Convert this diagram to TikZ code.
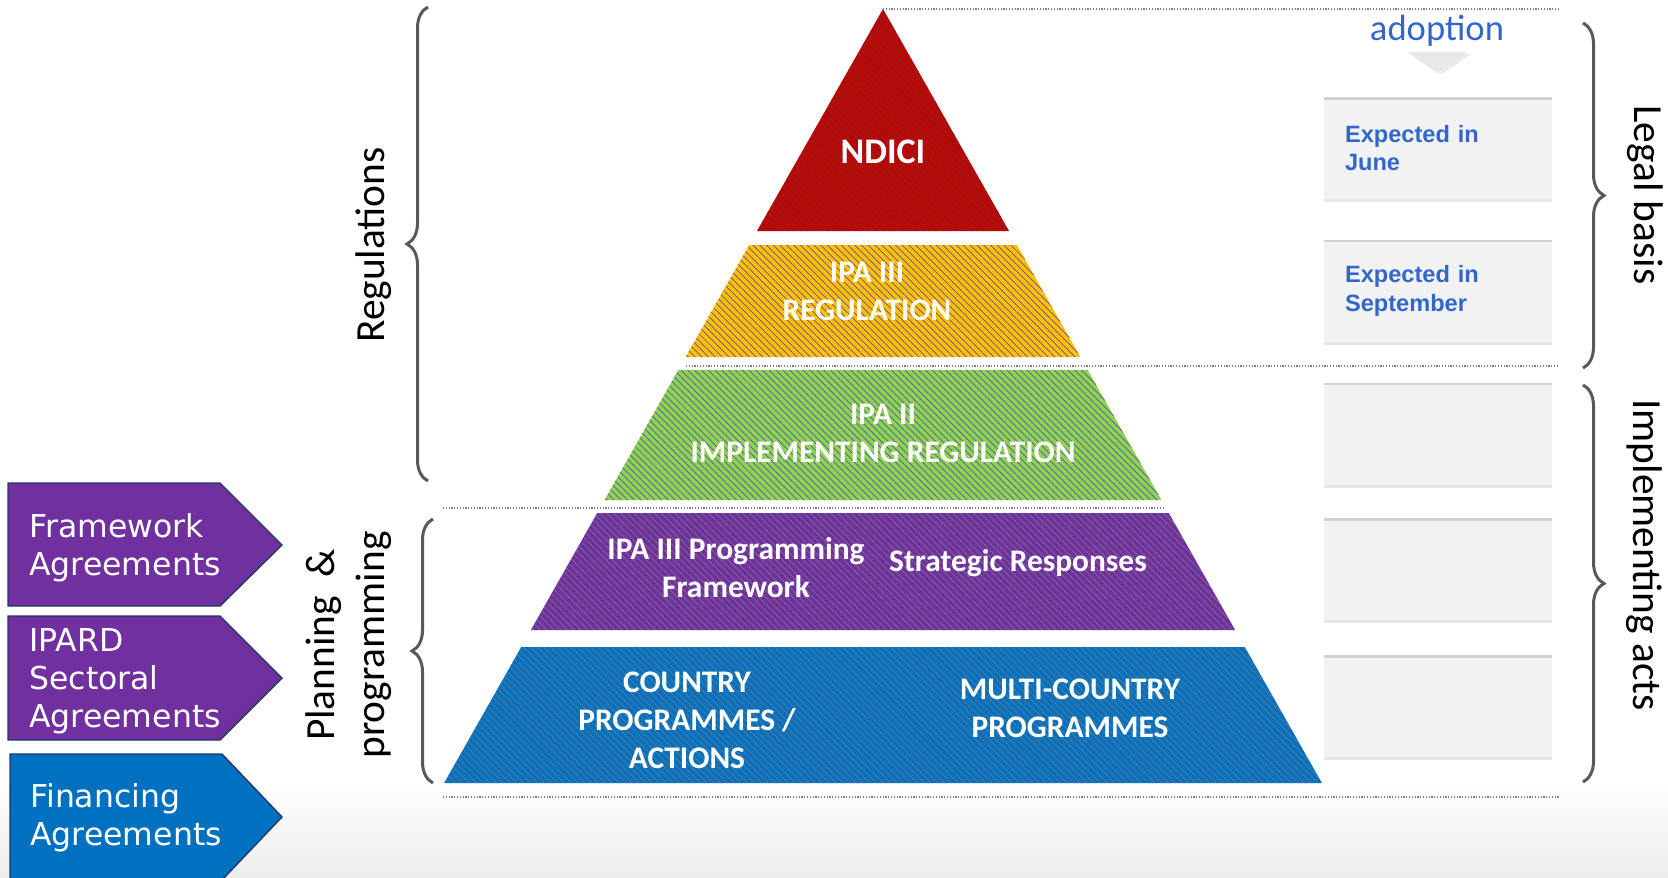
\documentclass[tikz,border=0pt]{standalone}
\usepackage{fontspec}
\setmainfont{Carlito}
\newfontfamily\agreefont{DejaVu Sans}
\newfontfamily\boxfont{Liberation Sans}
\usetikzlibrary{positioning,decorations.pathreplacing,shadows,patterns.meta}

\definecolor{ndicired}{HTML}{C00000}
\definecolor{ipayellow}{HTML}{FFC000}
\definecolor{ipagreen}{HTML}{92D050}
\definecolor{ipapurple}{HTML}{7030A0}
\definecolor{ipablue}{HTML}{0070C0}
\definecolor{navyline}{HTML}{203864}
\definecolor{adoptblue}{HTML}{3366CC}
\definecolor{boxgray}{HTML}{F2F2F2}
\definecolor{bracegray}{HTML}{595959}

\tikzset{
  layertext/.style={text=white, font=\bfseries\fontsize{15.7}{19}\selectfont, align=center},
  sidelabel/.style={font=\fontsize{20.7}{25}\selectfont, align=center},
  agreetext/.style={text=white, anchor=west, align=left, inner sep=0pt,
    font=\agreefont\fontsize{15.75}{19}\selectfont},
  actbox/.style={fill=boxgray, minimum width=114pt, minimum height=51pt,
    inner xsep=10.5pt, text width=93pt, align=left, text=adoptblue,
    font=\boxfont\bfseries\fontsize{11.8}{14.2}\selectfont,
    drop shadow={shadow xshift=0pt, shadow yshift=-1.5pt, opacity=0.2},
    path picture={\fill[black!18] (path picture bounding box.north west)
      rectangle ([yshift=-1.3pt]path picture bounding box.north east);}},
  guideline/.style={draw=gray, line width=0.6pt, dash pattern=on 0.6pt off 0.8pt},
  bracket/.style={decorate, decoration={brace, amplitude=10.5pt},
    draw=bracegray, line width=1.5pt},
}

\begin{document}
\begin{tikzpicture}[x=0.5pt, y=-0.5pt]
  \useasboundingbox (0,0) rectangle (1668,877);
  \shade[top color=white, bottom color=black!7] (0,780) rectangle (1668,877);

  % pyramid
  \coordinate (apex) at (883,9);
  \fill[ndicired] (apex) -- (1009,231) -- (757,231) -- cycle;
  \path[pattern={Lines[angle=-45,distance=2.4pt,line width=0.35pt]},
        pattern color=ndicired!55!teal] (apex) -- (1009,231) -- (757,231) -- cycle;
  \foreach \top/\bot/\col/\stripe in {245/357/ipayellow/blue!60!ipayellow,
      370/500/ipagreen/blue!55!ipagreen, 513/630/ipapurple/gray!80!ipapurple,
      647/783/ipablue/gray!80!ipablue}
  {
    \fill[\col] ({883-0.567*(\top-9)},\top) -- ({883+0.567*(\top-9)},\top)
      -- ({883+0.567*(\bot-9)},\bot) -- ({883-0.567*(\bot-9)},\bot) -- cycle;
    \path[pattern={Lines[angle=-45,distance=2.4pt,line width=0.35pt]}, pattern color=\stripe]
      ({883-0.567*(\top-9)},\top) -- ({883+0.567*(\top-9)},\top)
      -- ({883+0.567*(\bot-9)},\bot) -- ({883-0.567*(\bot-9)},\bot) -- cycle;
  }

  \node[layertext, font=\bfseries\fontsize{18}{21}\selectfont] (ndici) at (883,152) {NDICI};
  \node[layertext] (ipa3)    at (867,291)   {IPA III\\REGULATION};
  \node[layertext] (ipa2)    at (883,433)   {IPA II\\IMPLEMENTING REGULATION};
  \node[layertext] (progfw)  at (736,567.5) {IPA III Programming\\Framework};
  \node[layertext] (stratr)  at (1018,563)  {Strategic Responses};
  \node[layertext] (country) at (687,720)   {COUNTRY\\PROGRAMMES /\\ACTIONS};
  \node[layertext] (multi)   at (1070,708)  {MULTI-COUNTRY\\PROGRAMMES};

  % dotted guide lines
  \draw[guideline] (apex) -- (1560,9);
  \draw[guideline] (686,366) -- (1559,366);
  \draw[guideline] (443,508) -- (1163,508);
  \draw[guideline] (443,797) -- (1560,797);

  % agreements
  \filldraw[fill=ipapurple, draw=navyline, line width=0.7pt]
    (8,483) -- (220,483) -- (282,545) -- (220,606) -- (8,606) -- cycle;
  \filldraw[fill=ipapurple, draw=navyline, line width=0.7pt]
    (8,616) -- (220,616) -- (282,678) -- (220,740) -- (8,740) -- cycle;
  \filldraw[fill=ipablue, draw=navyline, line width=0.7pt]
    (10,754) -- (222,754) -- (282,817) -- (222,880) -- (10,880) -- cycle;
  \node[agreetext] (framework) at (29,548)   {Framework\\Agreements};
  \node[agreetext] (ipard)     at (29,681)   {IPARD\\Sectoral\\Agreements};
  \node[agreetext] (financing) at (30,818)   {Financing\\Agreements};

  % adoption column
  \node[text=adoptblue, font=\fontsize{18.3}{22}\selectfont] (adoption) at (1437,31) {adoption};
  \fill[black!9, drop shadow={shadow yshift=-0.8pt, opacity=0.15}]
    (1407,52) -- (1467,52) -- (1437,73) -- cycle;
  \node[actbox] (june) at (1438,148)      {Expected in\\June};
  \node[actbox] (sept) [below=20pt of june] {Expected in\\September};
  \node[actbox] (act1) [below=20pt of sept] {};
  \node[actbox] (act2) [below=16.5pt of act1] {};
  \node[actbox] (act3) [below=17pt of act2] {};

  % braces
  \draw[bracket] (428,481) -- (428,7);
  \draw[bracket] (433,783) -- (433,519);
  \draw[bracket] (1583,23) -- (1583,368);
  \draw[bracket] (1583,385) -- (1583,782);
  \node[sidelabel, rotate=90]  (regs)  at (374,245) {Regulations};
  \node[sidelabel, rotate=90]  (plan)  at (349,645) {Planning\ \ \&\\programming};
  \node[sidelabel, rotate=-90] (legal) at (1645,195) {Legal basis};
  \node[sidelabel, rotate=-90] (impl)  at (1644,555) {Implementing acts};
\end{tikzpicture}
\end{document}
